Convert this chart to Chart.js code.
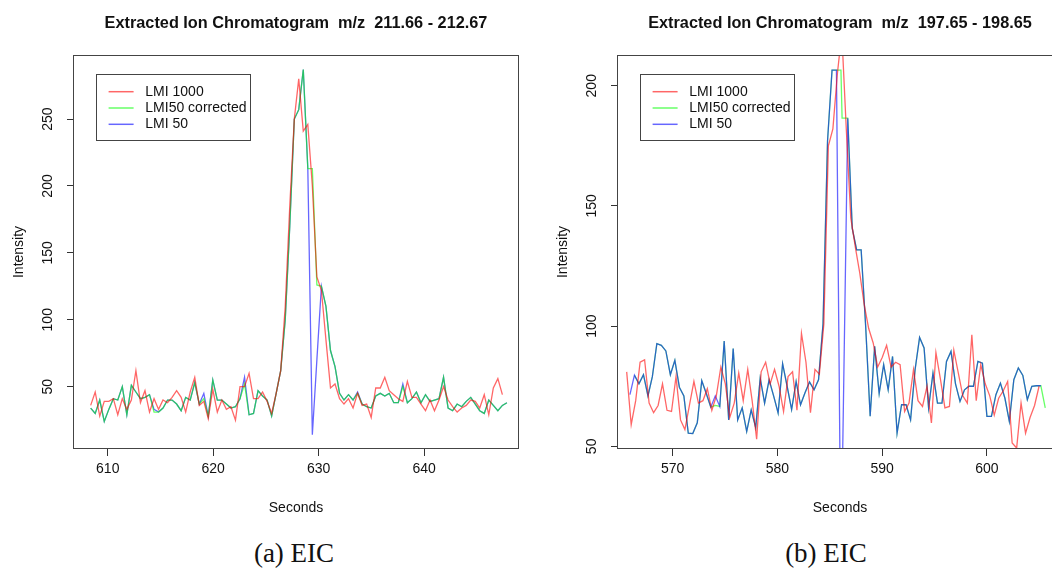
<!DOCTYPE html>
<html>
<head>
<meta charset="utf-8">
<script src="https://cdn.jsdelivr.net/npm/chart.js"></script>
<style>
  html, body { margin: 0; padding: 0; background: #fff; overflow: hidden; }
  body { width: 1052px; height: 569px; position: relative; }
  .panel { position: absolute; top: 0; }
  #panelA { left: 0; width: 540px; height: 530px; }
  #panelB { left: 544px; width: 520px; height: 530px; }
  .caption {
    position: absolute; top: 538px; line-height: 30px;
    font-family: 'Liberation Serif', 'Times New Roman', serif; font-size: 27px;
    color: #111; transform: translateX(-50%); white-space: nowrap;
  }
</style>
</head>
<body>
<div class="panel" id="panelA"><canvas id="chartA" width="540" height="530"></canvas></div>
<div class="panel" id="panelB"><canvas id="chartB" width="520" height="530"></canvas></div>
<div class="caption" style="left:294px">(a) EIC</div>
<div class="caption" style="left:826px">(b) EIC</div>

<script>
    // ---- panel (a): m/z 211.66 - 212.67 ----
    const secA = [
        608.38, 608.81, 609.24, 609.67, 610.10, 610.53, 610.95, 611.38, 611.81, 612.24,
        612.67, 613.10, 613.53, 613.96, 614.39, 614.82, 615.24, 615.67, 616.10, 616.53,
        616.96, 617.39, 617.82, 618.25, 618.68, 619.11, 619.53, 619.96, 620.39, 620.82,
        621.25, 621.68, 622.11, 622.54, 622.97, 623.40, 623.82, 624.25, 624.68, 625.11,
        625.54, 625.97, 626.40, 626.83, 627.26, 627.69, 628.11, 628.54, 628.97, 629.40,
        629.83, 630.26, 630.69, 631.12, 631.55, 631.98, 632.40, 632.83, 633.26, 633.69,
        634.12, 634.55, 634.98, 635.41, 635.84, 636.27, 636.69, 637.12, 637.55, 637.98,
        638.41, 638.84, 639.27, 639.70, 640.13, 640.56, 640.98, 641.41, 641.84, 642.27,
        642.70, 643.13, 643.56, 643.99, 644.42, 644.85, 645.27, 645.70, 646.13, 646.56,
        646.99, 647.42, 647.85
    ];
    const lmi1000A = [
        36, 46, 28, 39, 39, 41, 29, 41, 33, 40,
        62, 38, 47, 31, 41, 33, 40, 38, 42, 47,
        42, 31, 46, 57, 36, 39, 26, 48, 31, 40,
        33, 35, 25, 50, 50, 60, 41, 41, 46, 39,
        30, 45, 62, 110, 185, 250, 280, 241, 246, 200,
        132, 122, 85, 49, 52, 41, 37, 41, 34, 45,
        36, 37, 27, 49, 49, 57, 47, 44, 41, 39,
        54, 42, 42, 37, 32, 40, 32, 40, 50, 40,
        35, 31, 34, 36, 40, 39, 34, 44, 29, 49,
        56, 44
    ];
    const lmi50corrA = [
        34, 30, 40, 24, 33, 41, 40, 50, 29, 51,
        46, 41, 42, 44, 31, 31, 34, 40, 40, 37,
        32, 42, 40, 53, 37, 41, 28, 55, 40, 40,
        37, 34, 35, 41, 52, 29, 30, 47, 43, 40,
        28, 45, 62, 100, 170, 250, 257, 287, 213, 213,
        126, 125, 110, 77, 65, 45, 40, 44, 40, 45,
        37, 35, 34, 43, 45, 43, 45, 38, 38, 50,
        38, 41, 46, 38, 44, 39, 40, 41, 57, 34,
        32, 37, 35, 39, 42, 37, 32, 30, 40, 36,
        32, 36, 38
    ];
    const lmi50A = [
        34, 30, 40, 24, 33, 41, 40, 50, 29, 51,
        46, 41, 42, 44, 33, 31, 34, 40, 40, 37,
        32, 42, 40, 53, 37, 45, 28, 55, 40, 40,
        37, 34, 35, 41, 57, 29, 30, 47, 43, 40,
        28, 45, 62, 100, 170, 250, 257, 287, 213, 14,
        70, 125, 110, 77, 65, 45, 40, 44, 40, 46,
        37, 35, 34, 43, 45, 43, 45, 38, 38, 52,
        38, 41, 46, 38, 44, 39, 40, 41, 57, 34,
        32, 37, 35, 39, 42, 37, 32, 30, 40, 36,
        32, 36, 38
    ];
    const xTicksA = [610, 620, 630, 640];
    const yTicksA = [50, 100, 150, 200, 250];

    // ---- panel (b): m/z 197.65 - 198.65 ----
    const secRedB = [
        565.61, 566.04, 566.47, 566.89, 567.32, 567.75, 568.18, 568.61, 569.03, 569.46,
        569.89, 570.32, 570.75, 571.17, 571.60, 572.03, 572.46, 572.89, 573.31, 573.74,
        574.17, 574.60, 575.03, 575.45, 575.88, 576.31, 576.74, 577.17, 577.59, 578.02,
        578.45, 578.88, 579.31, 579.73, 580.16, 580.59, 581.02, 581.45, 581.87, 582.30,
        582.73, 583.16, 583.59, 584.01, 584.44, 584.87, 585.30, 585.73, 586.15, 586.58,
        587.01, 587.44, 587.87, 588.29, 588.72, 589.15, 589.58, 590.01, 590.43, 590.86,
        591.29, 591.72, 592.15, 592.57, 593.00, 593.43, 593.86, 594.29, 594.71, 595.14,
        595.57, 596.00, 596.43, 596.85, 597.28, 597.71, 598.14, 598.57, 598.99, 599.42,
        599.85, 600.28, 600.71, 601.13, 601.56, 601.99, 602.42, 602.85, 603.27, 603.70,
        604.13, 604.56, 604.99
    ];
    const lmi1000B = [
        81, 59, 69, 85, 86, 68, 64, 67, 76, 65,
        64.5, 79, 61, 57, 67, 77, 68, 69, 74, 65,
        71, 83, 76, 62, 68, 80.5, 69, 82, 69, 53,
        81, 85, 76, 82, 75, 64.5, 79, 81, 65, 97,
        85, 64, 82, 80, 101, 175, 182, 205, 222, 182,
        145, 133, 122, 109, 99, 93, 83, 87, 92, 83,
        85, 84, 64.5, 68, 82, 69, 66.6, 75, 59.7, 89,
        78, 66, 66.6, 90, 80.5, 71, 68, 96.4, 69, 84,
        76, 71, 63, 70, 73, 77, 51.4, 49.3, 68, 55.5,
        62, 67, 75
    ];
    const secLmiB = [
        565.92, 566.35, 566.78, 567.21, 567.64, 568.06, 568.49, 568.92, 569.35, 569.78,
        570.21, 570.64, 571.07, 571.49, 571.92, 572.35, 572.78, 573.21, 573.64, 574.07,
        574.50, 574.92, 575.35, 575.78, 576.21, 576.64, 577.07, 577.50, 577.93, 578.36,
        578.78, 579.21, 579.64, 580.07, 580.50, 580.93, 581.36, 581.79, 582.21, 582.64,
        583.07, 583.50, 583.93, 584.36, 584.79, 585.22, 585.64, 586.07,
        586.18,
        586.72, 587.15, 587.57, 588.00, 588.43, 588.86, 589.29, 589.72, 590.15, 590.58,
        591.00, 591.43, 591.86, 592.29, 592.72, 593.15, 593.58, 594.01, 594.44, 594.86,
        595.29, 595.72, 596.15, 596.58, 597.01, 597.44, 597.87, 598.29, 598.72, 599.15,
        599.58, 600.01, 600.44, 600.87, 601.30, 601.73, 602.15, 602.58, 603.01, 603.44,
        603.87, 604.30, 604.73, 605.16, 605.58
    ];
    const lmi50corrB = [
        null, 79.6, 76, 79.8, 71, 79, 92.7, 92, 89.7, 79.8,
        85.8, 74.6, 71, 55.5, 55.3, 59.8, 77.3, 72, 66.3, 67,
        66.6, 93.8, 61, 90.7, 61, 66, 56.2, 65.2, 57.8, 78.4,
        68, 77.7, 71, 63.9, 84.4, 75, 65.3, 77, 67.3, 72.3,
        76.8, 73.5, 77.7, 101, 177, 206.5, 206.5, 206.5,
        186.5,
        186.5, 140.7, 131.7, 131.7, 100, 62.5, 91.6, 72, 84, 73.5,
        87.4, 55.5, 67.3, 67.3, 61, 81.9, 95.3, 90.9, 66, 80.5,
        68, 68, 85.3, 89.5, 76, 68.7, 73.5, 75, 75, 85.3,
        84.6, 62.5, 62.5, 71.5, 76.3, 70, 60.4, 77.7, 82.6, 79.5,
        69.4, 75, 75.2, 75.2, 66
    ];
    const lmi50B = [
        71.5, 79.6, 76, 79.8, 71, 79, 92.7, 92, 89.7, 79.8,
        85.8, 74.6, 71, 55.5, 55.3, 59.8, 77.3, 72, 66.3, 71,
        66.6, 93.8, 61, 90.7, 61, 66, 56.2, 65.2, 57.8, 78.4,
        68, 77.7, 71, 63.9, 84.4, 75, 65.3, 77, 67.3, 72.3,
        76.8, 73.5, 77.7, 101, 177, 206.5, 206.5, 0,
        null,
        186.5, 140.7, 131.7, 131.7, 100, 62.5, 91.6, 72, 84, 73.5,
        87.4, 55.5, 67.3, 67.3, 61, 81.9, 95.3, 90.9, 66, 80.5,
        68, 68, 85.3, 89.5, 76, 68.7, 73.5, 75, 75, 85.3,
        84.6, 62.5, 62.5, 71.5, 76.3, 70, 60.4, 77.7, 82.6, 79.5,
        69.4, 75, 75.2, 75.2, null
    ];
    const xTicksB = [570, 580, 590, 600];
    const yTicksB = [50, 100, 150, 200];

    const seriesNames = ['LMI 1000', 'LMI50 corrected', 'LMI 50'];
    const seriesColors = ['rgba(255,0,0,0.6)', 'rgba(0,255,0,0.6)', 'rgba(0,0,255,0.6)'];

    Chart.defaults.font.family = "'Liberation Sans', Arial, sans-serif";
    Chart.defaults.color = '#111';

    const pts = (xs, ys) => ys.map((y, i) => ({x: xs[i], y: y}));

    // plot frame like R's box()
    const frameBox = {
        id: 'frameBox',
        afterDraw(chart) {
            const {ctx, chartArea} = chart;
            ctx.save();
            ctx.strokeStyle = '#444';
            ctx.lineWidth = 1;
            ctx.strokeRect(Math.round(chartArea.left) - 0.5, Math.round(chartArea.top) + 0.5,
                Math.round(chartArea.right - chartArea.left) + 1, Math.round(chartArea.bottom - chartArea.top) - 1);
            ctx.restore();
        }
    };

    // boxed legend in the top-left corner of the plot
    const legendBox = {
        id: 'legendBox',
        afterDraw(chart, args, opts) {
            const {ctx, chartArea} = chart;
            const bx = Math.round(chartArea.left + 21.7);
            const by = Math.round(chartArea.top + 19);
            ctx.save();
            ctx.strokeStyle = '#444';
            ctx.lineWidth = 1;
            ctx.strokeRect(bx + 0.5, by + 0.5, 154, 66);
            ctx.font = "14px 'Liberation Sans', Arial, sans-serif";
            ctx.textBaseline = 'middle';
            ctx.fillStyle = '#111';
            opts.names.forEach((name, i) => {
                const ds = chart.data.datasets.find(d => d.label === name);
                const ry = by + 17.7 + i * 16.3;
                ctx.strokeStyle = ds.borderColor;
                ctx.lineWidth = 1.5;
                ctx.beginPath();
                ctx.moveTo(bx + 12.6, ry);
                ctx.lineTo(bx + 37.6, ry);
                ctx.stroke();
                ctx.fillText(name, bx + 49.3, ry);
            });
            ctx.restore();
        }
    };

    const makeChart = (id, cfg) => new Chart(document.getElementById(id), {
        type: 'line',
        data: {datasets: cfg.datasets},
        options: {
            responsive: false,
            animation: false,
            layout: {padding: {left: 0, right: cfg.padRight, top: 0, bottom: 0}},
            elements: {point: {radius: 0}, line: {borderWidth: 1.3, tension: 0}},
            plugins: {
                legend: {display: false},
                tooltip: {enabled: false},
                title: {
                    display: true, text: cfg.title, fullSize: false, color: '#111',
                    font: {size: 16.3, weight: 'bold'}, padding: {top: 14, bottom: 21.4}
                },
                legendBox: {names: seriesNames}
            },
            scales: {
                x: {
                    type: 'linear', min: cfg.xMin, max: cfg.xMax,
                    afterBuildTicks: s => { s.ticks = cfg.xTicks.map(v => ({value: v})); },
                    afterFit: s => { s.height = 81; },
                    ticks: {autoSkip: false, maxRotation: 0, padding: 4.6, color: '#111', font: {size: 14}},
                    grid: {drawOnChartArea: false, drawTicks: true, tickLength: 7, tickColor: '#333'},
                    border: {display: false},
                    title: {display: true, text: 'Seconds', color: '#111', font: {size: 14}, padding: {top: 0, bottom: 13.6}}
                },
                y: {
                    type: 'linear', min: cfg.yMin, max: cfg.yMax,
                    afterBuildTicks: s => { s.ticks = cfg.yTicks.map(v => ({value: v})); },
                    afterFit: s => { s.width = 74; },
                    ticks: {autoSkip: false, minRotation: 90, maxRotation: 90, crossAlign: 'center', padding: 7.5, color: '#111', font: {size: 14}},
                    grid: {drawOnChartArea: false, drawTicks: true, tickLength: 7, tickColor: '#333'},
                    border: {display: false},
                    title: {display: true, text: 'Intensity', color: '#111', font: {size: 14}, padding: {top: 10.6, bottom: 0}}
                }
            }
        },
        plugins: [frameBox, legendBox]
    });

    makeChart('chartA', {
        title: 'Extracted Ion Chromatogram  m/z  211.66 - 212.67',
        padRight: 22,
        xMin: 606.8, xMax: 648.9, yMin: 3.4, yMax: 297.9,
        xTicks: xTicksA, yTicks: yTicksA,
        datasets: [
            {label: seriesNames[0], data: pts(secA, lmi1000A), borderColor: seriesColors[0], order: 1, spanGaps: true},
            {label: seriesNames[1], data: pts(secA, lmi50corrA), borderColor: seriesColors[1], order: 2, spanGaps: true},
            {label: seriesNames[2], data: pts(secA, lmi50A), borderColor: seriesColors[2], order: 3, spanGaps: true}
        ]
    });

    makeChart('chartB', {
        title: 'Extracted Ion Chromatogram  m/z  197.65 - 198.65',
        padRight: 2,
        xMin: 564.78, xMax: 607.18, yMin: 48.9, yMax: 212.8,
        xTicks: xTicksB, yTicks: yTicksB,
        datasets: [
            {label: seriesNames[0], data: pts(secRedB, lmi1000B), borderColor: seriesColors[0], order: 1, spanGaps: true},
            {label: seriesNames[1], data: pts(secLmiB, lmi50corrB), borderColor: seriesColors[1], order: 3, spanGaps: true},
            {label: seriesNames[2], data: pts(secLmiB, lmi50B), borderColor: seriesColors[2], order: 2, spanGaps: true}
        ]
    });
</script>
</body>
</html>
